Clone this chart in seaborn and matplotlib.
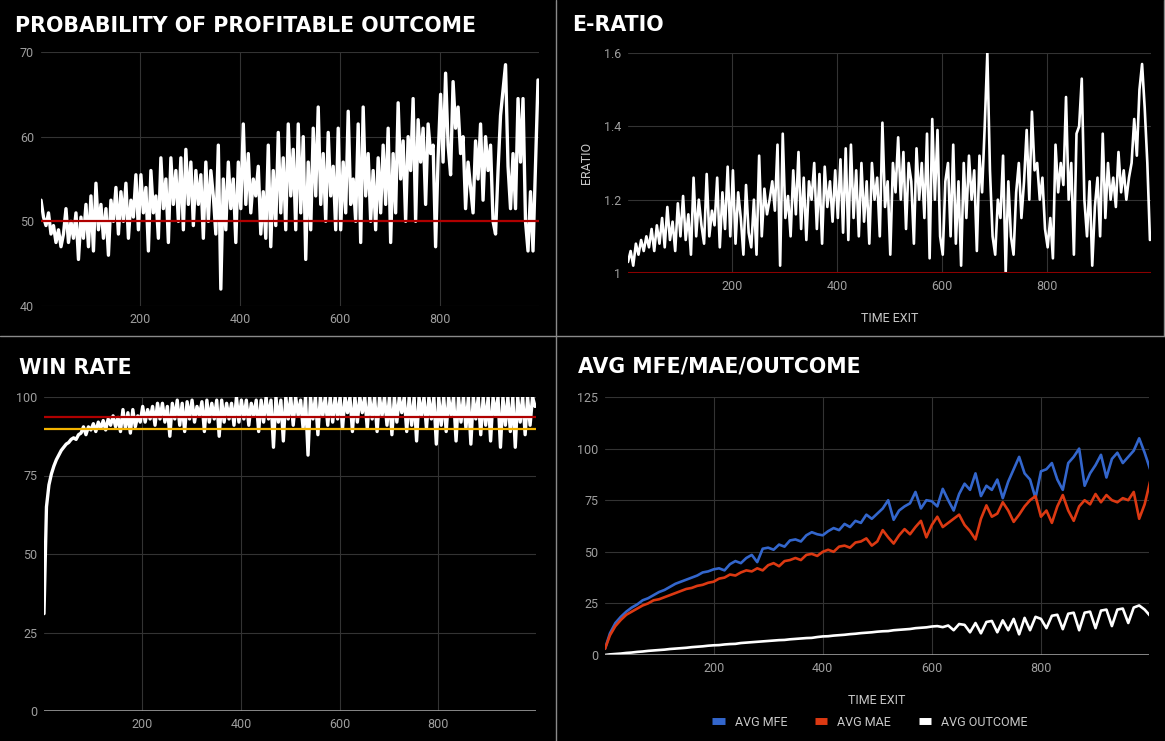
import matplotlib
matplotlib.use("Agg")
import matplotlib.pyplot as plt
import seaborn as sns
from matplotlib.lines import Line2D

# time exit grid for the three noisy panels (every 5th bar)
TIME_EXIT = list(range(1, 1000, 5))
# grid for the averages panel
TIME_EXIT_AVG = [1] + list(range(10, 1001, 10))

PROFITABLE_PCT = [
    52.5, 50.5, 49.5, 51, 48.5, 49.5, 47.5, 49, 47, 48.5, 51.5, 47.5, 50, 48, 51, 45.5, 50.5, 48, 52, 47,
    53, 46.5, 54.5, 49, 52, 48, 51.5, 46, 52.5, 50, 54, 48.5, 53.5, 50, 54.5, 48, 52.5, 50.5, 55.5, 49,
    55.5, 51, 54, 46.5, 56, 51, 53, 48, 57.5, 51.5, 55, 47.5, 57.5, 52, 56, 50, 57.5, 49, 58.5, 52,
    57, 49.5, 56, 52, 55.5, 48, 57, 50, 56, 53, 48.5, 59, 42, 55, 49, 57, 51.5, 55, 47.5, 57,
    51.5, 61.5, 52, 58, 51, 55, 53, 56.5, 48.5, 53.5, 48, 59, 47, 56, 49.5, 60.5, 51, 57.5, 49, 61.5,
    53, 58.5, 49, 61.5, 51, 60, 45.5, 57, 49, 61, 53, 63.5, 52, 58, 50, 60.5, 53, 56.5, 49, 61,
    49, 57, 51, 63, 52, 55, 50, 61.5, 47.5, 63.5, 53, 58, 50, 56, 49, 57.5, 51, 59, 52, 61,
    47.5, 58, 51, 64, 55, 59.5, 50, 60, 56, 64.5, 50, 62, 57, 61, 52, 61.5, 58, 59, 47, 57.5,
    65, 57, 67.5, 59, 55.5, 66.5, 61, 63.5, 58, 60, 51.5, 57, 54, 51, 59.5, 55, 61.5, 52.5, 60, 56,
    59, 50, 48.5, 56, 62.5, 65.5, 68.5, 56.5, 51.5, 58, 51.5, 64.5, 57, 64.5, 50, 46.5, 53.5, 46.5, 56.5, 66.7,
]

E_RATIO = [
    1.03, 1.06, 1.02, 1.08, 1.05, 1.09, 1.06, 1.1, 1.07, 1.12, 1.06, 1.13, 1.08, 1.15, 1.07, 1.18, 1.09, 1.14, 1.06, 1.19,
    1.1, 1.21, 1.09, 1.16, 1.05, 1.26, 1.1, 1.2, 1.13, 1.08, 1.27, 1.1, 1.17, 1.13, 1.26, 1.07, 1.22, 1.12, 1.29, 1.1,
    1.28, 1.08, 1.22, 1.15, 1.05, 1.24, 1.11, 1.07, 1.2, 1.05, 1.32, 1.1, 1.23, 1.16, 1.2, 1.25, 1.17, 1.35, 1.02, 1.38,
    1.15, 1.21, 1.1, 1.28, 1.16, 1.33, 1.12, 1.26, 1.09, 1.25, 1.2, 1.3, 1.12, 1.27, 1.08, 1.29, 1.18, 1.25, 1.14, 1.28,
    1.15, 1.31, 1.11, 1.34, 1.09, 1.35, 1.15, 1.28, 1.1, 1.3, 1.14, 1.25, 1.08, 1.3, 1.2, 1.26, 1.1, 1.41, 1.18, 1.25,
    1.05, 1.3, 1.22, 1.37, 1.2, 1.33, 1.12, 1.3, 1.25, 1.08, 1.34, 1.2, 1.3, 1.15, 1.38, 1.04, 1.42, 1.2, 1.39, 1.1,
    1.05, 1.25, 1.3, 1.1, 1.35, 1.08, 1.25, 1.02, 1.3, 1.15, 1.32, 1.2, 1.28, 1.06, 1.32, 1.22, 1.4, 1.6, 1.28, 1.1,
    1.05, 1.2, 1.15, 1.32, 1.0, 1.25, 1.1, 1.05, 1.22, 1.3, 1.15, 1.25, 1.39, 1.2, 1.44, 1.28, 1.3, 1.2, 1.26, 1.12,
    1.07, 1.15, 1.04, 1.35, 1.22, 1.3, 1.24, 1.48, 1.2, 1.3, 1.05, 1.38, 1.4, 1.53, 1.2, 1.1, 1.25, 1.02, 1.18, 1.26,
    1.1, 1.38, 1.15, 1.3, 1.2, 1.26, 1.18, 1.33, 1.22, 1.28, 1.2, 1.26, 1.3, 1.42, 1.32, 1.5, 1.57, 1.45, 1.3, 1.09,
]

WIN_RATE = [
    31, 65, 72, 75.5, 78, 80, 81.5, 83, 84, 85, 85.5, 86.5, 87, 86.5, 88, 88.5, 90.5, 88, 90.5, 89.5,
    91.5, 89, 92, 90, 92.5, 89.5, 93, 91, 94, 90.5, 93.5, 89, 96, 90, 95, 88.5, 96, 90.5, 94, 92,
    97, 92, 96, 93, 97, 91, 98, 93, 98, 92, 97, 87.5, 98, 93, 99, 91, 98, 89, 98.5, 93,
    99, 92, 97, 94, 98.5, 89, 99, 92, 98, 93, 99, 87.5, 99, 92, 98, 93, 98, 91, 100, 92,
    99, 93, 99, 91, 98, 94, 99, 89, 99, 92, 100, 93, 99, 84, 100, 92, 99, 86, 100, 93,
    100, 91, 100, 94, 99, 90, 100, 81.5, 100, 93, 100, 88, 100, 94, 100, 91, 100, 92, 100, 93,
    100, 90, 100, 95, 100, 89, 100, 92, 100, 95, 100, 90, 100, 93, 100, 89, 100, 94, 100, 91,
    100, 88, 100, 92, 100, 95, 100, 89, 100, 91, 100, 86, 100, 94, 100, 90, 100, 93, 100, 85,
    100, 91, 100, 89, 100, 94, 100, 86, 100, 92, 100, 90, 100, 85, 100, 93, 100, 88, 100, 91,
    100, 86, 100, 94, 100, 84, 100, 91, 100, 89, 100, 84, 100, 92, 100, 88, 100, 91, 100, 97,
]

AVG_MFE = [
    3,
    10.5, 15.5, 18.5, 21, 23, 24.5, 26.5, 27.5, 29, 30.5,
    31.5, 33, 34.5, 35.5, 36.5, 37.5, 38.5, 40, 40.5, 41.5,
    42, 41, 44, 45.5, 44.5, 47, 48.5, 45, 51.5, 52,
    51, 53.5, 52.5, 55.5, 56, 55, 58, 59.5, 58.5, 58,
    60, 61.5, 60.5, 63.5, 62, 65, 64, 68, 66, 68.5,
    71, 75, 65.5, 70, 72, 73.5, 79, 71, 75, 74.5,
    72, 80.5, 75, 70, 78, 83, 80, 88, 77, 82,
    80, 85, 76, 84, 90, 96, 88, 85, 76, 89,
    90, 93, 85, 80, 93, 96, 100, 82, 88, 92,
    97, 86, 95, 98, 93, 96, 99, 105, 98, 90,
]

AVG_MAE = [
    3,
    9.5, 14, 17, 19.5, 21, 22.5, 24, 25, 26.5, 27,
    28, 29, 30, 31, 32, 32.5, 33.5, 34, 35, 35.5,
    37, 37.5, 39, 38.5, 40, 41, 40.5, 42, 41, 43.5,
    44.5, 43, 45.5, 46, 47, 46, 48.5, 49, 48, 50,
    51, 50, 52.5, 53, 52, 54.5, 55, 56.5, 53, 55,
    60.5, 57, 54, 58, 61, 58.5, 62, 65, 57, 63,
    67, 62, 64, 66, 68, 63, 60, 56, 66, 72.5,
    67, 68.5, 74, 70, 64.5, 68, 72, 75, 77, 67,
    70, 64, 72, 77.5, 70, 65, 72, 75, 73, 78,
    74, 77.5, 75, 74, 76, 75, 79, 66, 73, 84,
]

AVG_OUTCOME = [
    0,
    0.3, 0.5, 0.7, 1, 1.2, 1.5, 1.7, 2, 2.2, 2.4,
    2.6, 2.9, 3.1, 3.3, 3.5, 3.8, 4, 4.2, 4.5, 4.7,
    4.8, 5.1, 5.3, 5.4, 5.8, 6, 6.2, 6.4, 6.6, 6.8,
    7, 7.2, 7.3, 7.6, 7.8, 8, 8.2, 8.3, 8.7, 9,
    9.1, 9.4, 9.6, 9.8, 10.1, 10.3, 10.6, 10.8, 11, 11.3,
    11.5, 11.6, 12, 12.2, 12.4, 12.6, 13, 13.2, 13.4, 13.8,
    14, 13.5, 14.3, 12, 15, 14.6, 11, 15.5, 10.5, 16,
    16.5, 11, 16.8, 12, 17.5, 10, 18, 12, 18.5, 17.5,
    13, 19, 19.5, 12.5, 20, 20.5, 12, 20.5, 21, 13,
    21.5, 22, 14, 22, 22.5, 15.5, 23, 24, 22, 19,
]

# reference levels drawn across the panels
PROFIT_BASE = 50
ERATIO_BASE = 1.0
WIN_RATE_RED = 93.6
WIN_RATE_GOLD = 89.8

W, H = 1165, 741
GRID = "#333333"
TICK = "#9e9e9e"
LABEL = "#c8c8c8"
DARK_RED = "#b00000"
GOLD = "#f4b400"
BLUE = "#3366cc"
ORANGE = "#dc3912"

sns.set_theme(style="dark", rc={
    "figure.facecolor": "black",
    "axes.facecolor": "black",
    "grid.color": GRID,
    "grid.linewidth": 0.8,
    "xtick.color": TICK,
    "ytick.color": TICK,
    "axes.edgecolor": "black",
})
plt.rcParams["font.family"] = ["Roboto", "DejaVu Sans"]

fig = plt.figure(figsize=(W / 100, H / 100), dpi=100)


def px_axes(left, top, right, bottom):
    return fig.add_axes([left / W, 1 - bottom / H, (right - left) / W, (bottom - top) / H])


def style(ax, yticks, ylabels, ylim):
    ax.set_xlim(1, 998)
    ax.set_ylim(*ylim)
    ax.set_xticks([200, 400, 600, 800])
    ax.set_yticks(yticks)
    ax.set_yticklabels(ylabels)
    ax.grid(True, axis="both", color=GRID, linewidth=0.8)
    ax.tick_params(axis="both", length=0, labelsize=9, colors=TICK)
    ax.tick_params(axis="x", pad=5)
    ax.tick_params(axis="y", pad=5)
    for s in ax.spines.values():
        s.set_visible(False)
    ax.set_xlabel("")
    ax.set_ylabel("")


def title(x, y, text):
    fig.text(x / W, 1 - y / H, text, color="white", fontsize=14.8, fontweight="bold",
             family="DejaVu Sans", va="baseline", ha="left")


# panel 1 - probability of profitable outcome
ax1 = px_axes(41, 52, 539, 306)
sns.lineplot(x=TIME_EXIT, y=PROFITABLE_PCT, ax=ax1, color="white", linewidth=2.4)
ax1.axhline(PROFIT_BASE, color=DARK_RED, linewidth=1.6)
style(ax1, [40, 50, 60, 70], ["40", "50", "60", "70"], (40, 70))
title(15, 31.5, "PROBABILITY OF PROFITABLE OUTCOME")

# panel 2 - e-ratio
ax2 = px_axes(628, 53, 1151, 273)
sns.lineplot(x=TIME_EXIT, y=E_RATIO, ax=ax2, color="white", linewidth=1.9)
ax2.axhline(ERATIO_BASE, color="#8b0000", linewidth=1.5)
style(ax2, [1.0, 1.2, 1.4, 1.6], ["1", "1.2", "1.4", "1.6"], (1.0, 1.6))
ax2.set_xlabel("TIME EXIT", color=LABEL, fontsize=9, labelpad=14)
ax2.set_ylabel("ERATIO", color=LABEL, fontsize=9, labelpad=8)
title(572, 31, "E-RATIO")

# panel 3 - win rate
ax3 = px_axes(44, 397, 536, 711)
sns.lineplot(x=TIME_EXIT, y=WIN_RATE, ax=ax3, color="white", linewidth=2.4)
ax3.axhline(WIN_RATE_RED, color=DARK_RED, linewidth=1.6)
ax3.axhline(WIN_RATE_GOLD, color=GOLD, linewidth=1.6)
style(ax3, [0, 25, 50, 75, 100], ["0", "25", "50", "75", "100"], (0, 100))
ax3.axhline(0, color="#9e9e9e", linewidth=1.2)
title(19, 374, "WIN RATE")

# panel 4 - avg mfe / mae / outcome
ax4 = px_axes(605, 397, 1149, 655)
sns.lineplot(x=TIME_EXIT_AVG, y=AVG_MFE, ax=ax4, color=BLUE, linewidth=1.9)
sns.lineplot(x=TIME_EXIT_AVG, y=AVG_MAE, ax=ax4, color=ORANGE, linewidth=1.9)
sns.lineplot(x=TIME_EXIT_AVG, y=AVG_OUTCOME, ax=ax4, color="white", linewidth=1.9)
style(ax4, [0, 25, 50, 75, 100, 125], ["0", "25", "50", "75", "100", "125"], (0, 125))
ax4.axhline(0, color="#9e9e9e", linewidth=1.2)
ax4.set_xlabel("TIME EXIT", color=LABEL, fontsize=9, labelpad=14)
title(578, 373, "AVG MFE/MAE/OUTCOME")

handles = [Line2D([0], [0], color=c, linewidth=5, solid_capstyle="butt") for c in (BLUE, ORANGE, "white")]
fig.legend(handles, ["AVG MFE", "AVG MAE", "AVG OUTCOME"], loc="center",
           bbox_to_anchor=(870 / W, 1 - 722 / H), ncol=3, frameon=False,
           handlelength=1.0, handletextpad=0.8, columnspacing=2.2,
           prop={"family": ["Roboto", "DejaVu Sans"], "size": 9}, labelcolor=LABEL)

# panel separators
sep = "#8a8a8a"
fig.add_artist(Line2D([556 / W, 556 / W], [0, 1], color=sep, linewidth=1.0))
fig.add_artist(Line2D([0, 1], [1 - 335.5 / H, 1 - 335.5 / H], color=sep, linewidth=1.0))
fig.add_artist(Line2D([1163.5 / W, 1163.5 / W], [1 - 335.5 / H, 1], color=sep, linewidth=1.0))

fig.savefig("out.png", dpi=100, facecolor="black")
